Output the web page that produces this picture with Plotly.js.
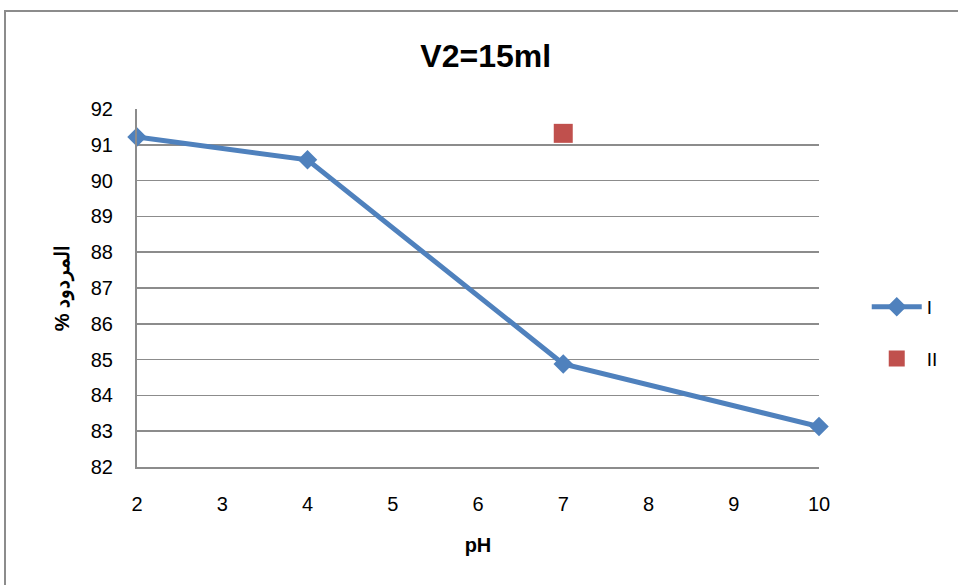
<!DOCTYPE html>
<html>
<head>
<meta charset="utf-8">
<script src="https://cdn.plot.ly/plotly-3.0.1.min.js"></script>
<style>
  html, body { margin: 0; padding: 0; background: #fff; }
  #wrap { position: relative; width: 958px; height: 585px; overflow: hidden; }
  #frame { position: absolute; left: 4px; top: 10px; width: 980px; height: 600px;
           border: 2px solid #8c8c8c; box-sizing: border-box; pointer-events: none; }
  #chart { position: absolute; left: 0; top: 0; width: 958px; height: 585px; }
</style>
</head>
<body>
<div id="wrap">
  <div id="chart"></div>
  <div id="frame"></div>
</div>
<script>
// pH values and yield (%) for the two series
const phI = [2, 4, 7, 10];
const yieldI = [91.22, 90.58, 84.88, 83.13];
const phII = [7];
const yieldII = [91.32];
const xTicks = [2, 3, 4, 5, 6, 7, 8, 9, 10];
const yTicks = [82, 83, 84, 85, 86, 87, 88, 89, 90, 91, 92];

const font = "Liberation Sans, Arial, sans-serif";

const traces = [
  {
    x: phI, y: yieldI, name: 'I', type: 'scatter', mode: 'lines+markers',
    legendgroup: 'a',
    line: { color: '#4F81BD', width: 5 },
    marker: { symbol: 'diamond', size: 15, color: '#4F81BD' },
    cliponaxis: false
  },
  {
    x: phII, y: yieldII, name: 'II', type: 'scatter', mode: 'markers',
    legendgroup: 'b',
    marker: { symbol: 'square', size: 19, color: '#C0504D' },
    cliponaxis: false
  }
];

const layout = {
  width: 958, height: 585,
  margin: { l: 137, r: 139, t: 109, b: 118 },
  paper_bgcolor: '#fff', plot_bgcolor: '#fff',
  font: { family: font, color: '#000', size: 19 },
  title: { text: '<b>V2=15ml</b>', x: 0.507, xanchor: 'center', y: 0.905, yanchor: 'middle',
           font: { family: font, size: 32, color: '#000' } },
  showlegend: true,
  legend: { x: 1.07, xanchor: 'left', y: 0.5, yanchor: 'top', traceorder: 'grouped',
            font: { family: font, size: 19 }, tracegroupgap: 24, itemwidth: 50 },
  xaxis: {
    range: [2, 10], tickvals: xTicks, ticktext: xTicks.map(String),
    tickfont: { family: font, size: 20 },
    showgrid: false, zeroline: false,
    showline: true, linecolor: '#8c8c8c', linewidth: 2,
    ticks: 'outside', ticklen: 18, tickcolor: 'rgba(0,0,0,0)',
    title: { text: '<b>pH</b>', standoff: 24, font: { family: font, size: 20 } }
  },
  yaxis: {
    range: [82, 92], tickvals: yTicks, ticktext: yTicks.map(String),
    tickfont: { family: font, size: 20 },
    showgrid: true, gridcolor: '#8c8c8c', gridwidth: 1.5, zeroline: false,
    showline: true, linecolor: '#8c8c8c', linewidth: 2,
    ticks: 'outside', ticklen: 18, tickcolor: 'rgba(0,0,0,0)',
    title: { text: '<b>% المردود</b>', standoff: 16, font: { family: font, size: 20 } }
  }
};

Plotly.newPlot('chart', traces, layout, { displayModeBar: false, staticPlot: true });
</script>
</body>
</html>
